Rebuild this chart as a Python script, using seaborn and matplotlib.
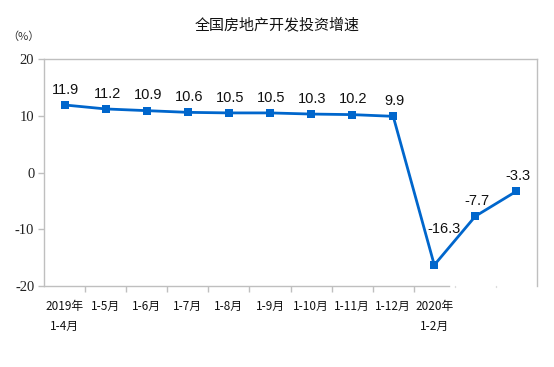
import matplotlib
matplotlib.use('Agg')
import matplotlib.pyplot as plt
import matplotlib.transforms as mtransforms
import pandas as pd
import seaborn as sns

TITLE = '全国房地产开发投资增速'
PERIODS = ['2019年\n1-4月', '1-5月', '1-6月', '1-7月', '1-8月', '1-9月', '1-10月',
           '1-11月', '1-12月', '2020年\n1-2月', '', '']
GROWTH = [11.9, 11.2, 10.9, 10.6, 10.5, 10.5, 10.3, 10.2, 9.9, -16.3, -7.7, -3.3]
Y_TICKS = [20, 10, 0, -10, -20]

LINE_COLOR = '#0066CC'
GRID_GRAY = '#BFBFBF'

df = pd.DataFrame({'idx': range(len(GROWTH)), 'growth': GROWTH})

sns.set_theme(style='white')
plt.rcParams['font.family'] = ['Noto Sans CJK SC', 'DejaVu Sans']

fig = plt.figure(figsize=(5.54, 3.67), dpi=100)
ax = fig.add_axes([44 / 554, 1 - 286 / 367, 493 / 554, 227 / 367])

sns.lineplot(data=df, x='idx', y='growth', ax=ax, color=LINE_COLOR,
             linewidth=2, marker='s', markersize=6, markeredgewidth=0)

ax.set_xlim(-0.5, len(GROWTH) - 0.5)
ax.set_ylim(-20, 20)
ax.set_xlabel('')
ax.set_ylabel('')

# frame
for side in ['left', 'top', 'right', 'bottom']:
    ax.spines[side].set_color(GRID_GRAY)
    ax.spines[side].set_linewidth(1)
ax.spines['bottom'].set_bounds(-0.5, 9.36)

# y axis
ax.set_yticks(Y_TICKS)
ax.set_yticklabels([str(v) for v in Y_TICKS], family='Liberation Serif',
                   fontsize=10.5, color='#222222')
ax.tick_params(axis='y', left=True, length=4, width=1, color=GRID_GRAY, pad=3)

# x axis: labels at centres, ticks at boundaries
ax.set_xticks(range(len(PERIODS)))
ax.set_xticklabels(PERIODS, fontsize=8.5, linespacing=1.75, color='#111111')
ax.tick_params(axis='x', which='major', length=0, pad=10)
ax.set_xticks([i + 0.5 for i in range(9)], minor=True)
ax.tick_params(axis='x', which='minor', bottom=True, length=4, width=1, color=GRID_GRAY)

# faint tick remnants past the cut bottom line
trans = mtransforms.blended_transform_factory(ax.transData, ax.transAxes)
for xb in [9.5, 10.5]:
    ax.plot([xb, xb], [0, -0.006], transform=trans, color='#DDDDDD',
            linewidth=1, clip_on=False)

# value labels
offsets = {9: (7, 26)}
for i, v in enumerate(GROWTH):
    dx, dy = offsets.get(i, (1, 11))
    ax.annotate(f'{v:.1f}', (i, v), xytext=(dx, dy), textcoords='offset points',
                ha='center', va='center', fontsize=10.5,
                family='Liberation Sans', color='#111111')

fig.text(277 / 554, 1 - 25 / 367, TITLE, ha='center', va='center', fontsize=10.8,
         color='#111111')
fig.text(23 / 554, 1 - 37 / 367, '（%）', ha='center', va='center', fontsize=8,
         color='#333333')

fig.savefig('out.png', dpi=100)
